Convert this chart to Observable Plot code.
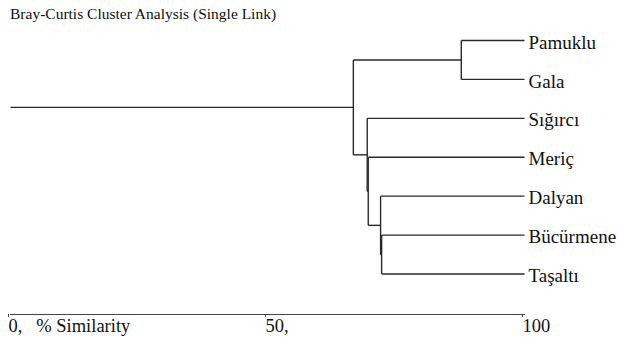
<!DOCTYPE html>
<html><head><meta charset="utf-8">
<script src="https://cdn.jsdelivr.net/npm/d3@7"></script>
<script src="https://cdn.jsdelivr.net/npm/@observablehq/plot@0.6"></script>
<style>
body{margin:0;background:#fff;}
#wrap{position:relative;width:619px;height:337px;}
#title{position:absolute;left:10px;top:6px;font-family:"Liberation Serif","Tinos","Times New Roman",serif;font-size:15.5px;line-height:15.5px;color:#111;white-space:nowrap;}
#chart{position:absolute;left:0;top:0;}
</style></head>
<body><div id="wrap"><div id="title"></div><div id="chart"></div></div>
<script>
const titleText = "Bray-Curtis Cluster Analysis (Single Link)";
const leaves = ["Pamuklu", "Gala", "Sığırcı", "Meriç", "Dalyan", "Bücürmene", "Taşaltı"];
// merges in order: node n0, n1, ... (children are leaf names or earlier node ids)
const mergeLeft  = ["Pamuklu", "Bücürmene", "Dalyan", "Meriç", "Sığırcı", "n0"];
const mergeRight = ["Gala",    "Taşaltı",   "n1",     "n2",    "n3",      "n4"];
const mergeSimilarity = [87.7, 72.2, 72.0, 69.6, 69.4, 66.7];
const leafSimilarity = 100;
const ticks = [0, 50, 100];
const tickLabels = ["0,\u00a0\u00a0\u00a0% Similarity", "50,", "100"];

document.getElementById("title").textContent = titleText;

const pos = new Map();
leaves.forEach((d, i) => pos.set(d, {x: leafSimilarity, y: i}));
const segments = [];
mergeLeft.forEach((a, i) => {
  const b = mergeRight[i], s = mergeSimilarity[i];
  const pa = pos.get(a), pb = pos.get(b);
  segments.push({x1: s, y1: pa.y, x2: s, y2: pb.y});
  segments.push({x1: s, y1: pa.y, x2: pa.x, y2: pa.y});
  segments.push({x1: s, y1: pb.y, x2: pb.x, y2: pb.y});
  pos.set("n" + i, {x: s, y: (pa.y + pb.y) / 2});
});
const root = pos.get("n" + (mergeLeft.length - 1));
segments.push({x1: 0, y1: root.y, x2: root.x, y2: root.y});

const serif = '"Liberation Serif","Tinos","Times New Roman",serif';
const chart = Plot.plot({
  width: 619, height: 337,
  marginLeft: 10, marginRight: 95, marginTop: 40, marginBottom: 23,
  style: {fontFamily: serif, background: "transparent", color: "#111", overflow: "visible"},
  x: {domain: [0, 100], axis: null},
  y: {domain: [0, leaves.length - 1], range: [40, 273.5], axis: null},
  marks: [
    Plot.link(segments, {x1: "x1", y1: "y1", x2: "x2", y2: "y2", stroke: "#2a2a2a", strokeWidth: 1.4}),
    Plot.text(leaves, {x: () => leafSimilarity, y: (d, i) => i, text: d => d, dx: 4, dy: 2, textAnchor: "start", fontSize: 19, fontFamily: serif, fill: "#111"}),
    Plot.frame({anchor: "bottom", stroke: "#444", strokeWidth: 1.2}),
    Plot.axisX(ticks, {anchor: "bottom", tickSize: 3, tickPadding: 1, tickFormat: d => tickLabels[ticks.indexOf(d)], textAnchor: "start", dx: -2, fontSize: 18.5, fontFamily: serif, stroke: "#444", fill: "#111"})
  ]
});
document.getElementById("chart").append(chart);
</script>
</body></html>
